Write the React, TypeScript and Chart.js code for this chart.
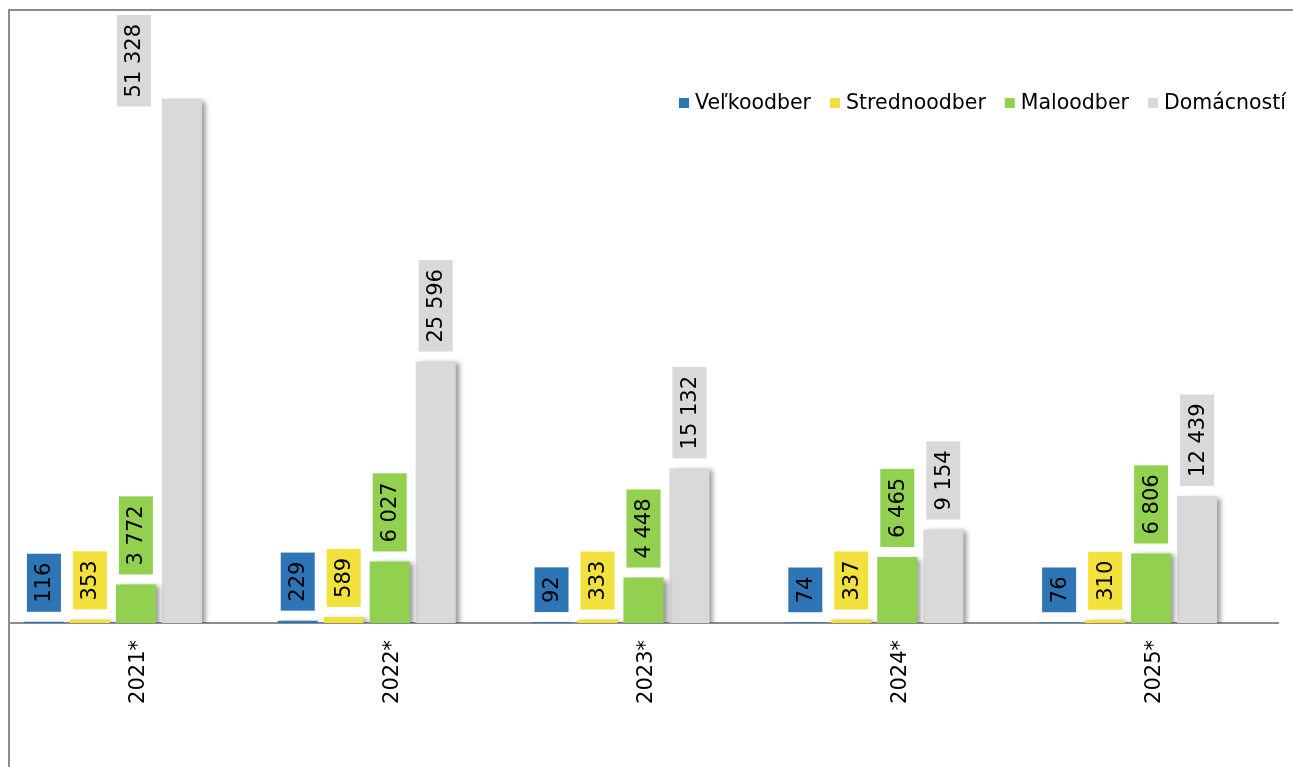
import React, { useEffect, useRef } from 'react';
import { Chart, registerables } from 'chart.js';

Chart.register(...registerables);

const categories = ['2021*', '2022*', '2023*', '2024*', '2025*'];
const velkoodber = [116, 229, 92, 74, 76];
const strednoodber = [353, 589, 333, 337, 310];
const maloodber = [3772, 6027, 4448, 6465, 6806];
const domacnosti = [51328, 25596, 15132, 9154, 12439];
const emptySeries = [null, null, null, null, null];
const seriesNames = ['Veľkoodber', 'Strednoodber', 'Maloodber', 'Domácností'];
const seriesColors = ['#2E75B6', '#F2E03C', '#92D050', '#D9D9D9'];
const yMax = 60000;

const FONT = '"DejaVu Sans", Verdana, sans-serif';

function fmt(v: number): string {
  return String(v).replace(/\B(?=(\d{3})+(?!\d))/g, ' ');
}

const decorPlugin = {
  id: 'decor',
  beforeDraw(chart: any) {
    const ctx = chart.ctx;
    ctx.save();
    ctx.fillStyle = '#ffffff';
    ctx.fillRect(0, 0, chart.width, chart.height);
    ctx.strokeStyle = '#8c8c8c';
    ctx.lineWidth = 2;
    ctx.beginPath();
    ctx.moveTo(9, chart.height);
    ctx.lineTo(9, 10);
    ctx.lineTo(chart.width, 10);
    ctx.stroke();
    ctx.restore();
  },
  beforeDatasetsDraw(chart: any) {
    const ctx = chart.ctx;
    ctx.save();
    ctx.shadowColor = 'rgba(0,0,0,0.4)';
    ctx.shadowBlur = 5;
    ctx.shadowOffsetX = 4;
    ctx.shadowOffsetY = 2;
  },
  afterDatasetsDraw(chart: any) {
    const ctx = chart.ctx;
    ctx.restore();
    ctx.save();
    ctx.font = '21px ' + FONT;
    const area = chart.chartArea;
    chart.data.datasets.forEach((ds: any, di: number) => {
      if (di >= seriesNames.length) return;
      const meta = chart.getDatasetMeta(di);
      meta.data.forEach((bar: any, i: number) => {
        const v = ds.data[i];
        if (v === null || v === undefined) return;
        const text = fmt(v);
        const tw = ctx.measureText(text).width;
        const len = tw + 18;
        const thick = 34;
        let cx = bar.x;
        let top = bar.y - 10 - len;
        if (top < area.top + 4) {
          // label does not fit above the bar: move it beside the bar, inside the plot
          top = area.top + 5;
          cx = bar.x - 48;
        }
        ctx.fillStyle = seriesColors[di];
        ctx.fillRect(cx - thick / 2, top, thick, len);
        ctx.save();
        ctx.translate(cx, top + len / 2);
        ctx.rotate(-Math.PI / 2);
        ctx.fillStyle = '#000000';
        ctx.textAlign = 'center';
        ctx.textBaseline = 'middle';
        ctx.fillText(text, 0, 1);
        ctx.restore();
      });
    });
    ctx.restore();
  },
  afterDraw(chart: any) {
    const ctx = chart.ctx;
    ctx.save();
    ctx.font = '20.5px ' + FONT;
    ctx.textBaseline = 'middle';
    const box = 10;
    const gapText = 6;
    const gapItem = 19;
    const widths = seriesNames.map((n) => ctx.measureText(n).width);
    const total = widths.reduce((a, w) => a + box + gapText + w, 0) + gapItem * (seriesNames.length - 1);
    let x = 1286 - total;
    const cy = 103;
    seriesNames.forEach((n, i) => {
      ctx.fillStyle = seriesColors[i];
      ctx.fillRect(x, cy - 5, box, box);
      ctx.fillStyle = '#000000';
      ctx.fillText(n, x + box + gapText, cy + 1);
      x += box + gapText + widths[i] + gapItem;
    });
    ctx.restore();
  },
};

export default function App() {
  const canvasRef = useRef<HTMLCanvasElement | null>(null);

  useEffect(() => {
    const canvas = canvasRef.current;
    if (!canvas) return;
    const mk = (label: string, data: any[], color: string) => ({
      label,
      data,
      backgroundColor: color,
      borderWidth: 0,
      categoryPercentage: 0.906,
      barPercentage: 0.87,
    });
    const chart = new Chart(canvas, {
      type: 'bar',
      data: {
        labels: categories,
        datasets: [
          mk(seriesNames[0], velkoodber, seriesColors[0]),
          mk(seriesNames[1], strednoodber, seriesColors[1]),
          mk(seriesNames[2], maloodber, seriesColors[2]),
          mk(seriesNames[3], domacnosti, seriesColors[3]),
          mk('', emptySeries, 'rgba(0,0,0,0)'),
        ],
      },
      options: {
        animation: false,
        responsive: false,
        devicePixelRatio: 1,
        layout: { padding: { left: 9, right: 15, top: 10, bottom: 0 } },
        plugins: {
          legend: { display: false },
          tooltip: { enabled: false },
        },
        scales: {
          x: {
            grid: { display: false },
            border: { display: true, color: '#8c8c8c', width: 2 },
            ticks: {
              minRotation: 90,
              maxRotation: 90,
              padding: 9,
              labelOffset: 3,
              color: '#000000',
              font: { family: FONT, size: 21 },
            },
            afterFit: (scale: any) => {
              scale.height = 144;
            },
          },
          y: {
            display: false,
            min: 0,
            max: yMax,
          },
        },
      },
      plugins: [decorPlugin],
    } as any);
    return () => chart.destroy();
  }, []);

  return (
    <div style={{ position: 'fixed', left: 0, top: 0, width: 1293, height: 767, background: '#fff' }}>
      <canvas ref={canvasRef} width={1293} height={767} style={{ display: 'block' }} />
    </div>
  );
}
